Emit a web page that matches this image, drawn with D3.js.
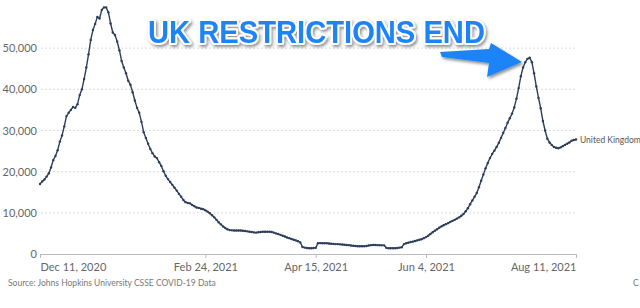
<!DOCTYPE html>
<html>
<head>
<meta charset="utf-8">
<script src="https://cdn.jsdelivr.net/npm/d3@7"></script>
<style>
  body { margin: 0; background: #fff; }
  svg { display: block; font-family: Lato, "Open Sans", sans-serif; }
</style>
</head>
<body>
<script>
const width = 640;
const height = 308;

// daily 7-day average of new cases, starting Dec 11, 2020
const startDate = '2020-12-11';
const cases = [
  17000, 17600, 18100, 18800, 19600, 21000, 22800, 23800, 25200, 27300,
  28800, 31000, 33500, 34300, 35000, 35700, 35500, 36400, 38600, 40000,
  42500, 45300, 48500, 52000, 54400, 55900, 57600, 57200, 59300, 59900,
  59900, 58700, 56000, 53800, 53200, 51600, 49500, 46900, 45300, 43900,
  42100, 41100, 39300, 37300, 35500, 34300, 32100, 29600, 28200, 26800,
  25500, 24500, 23700, 23300, 22300, 21400, 20100, 19000, 18200, 17500,
  16800, 16100, 15400, 14600, 13900, 13100, 12600, 12400, 12300, 11900,
  11600, 11300, 11200, 11000, 10900, 10600, 10300, 9900, 9400, 8900,
  8300, 7700, 7200, 6700, 6300, 6000, 5800, 5750, 5700, 5700,
  5700, 5700, 5650, 5600, 5500, 5400, 5350, 5250, 5200, 5300,
  5350, 5400, 5400, 5400, 5400, 5350, 5200, 5000, 4850, 4650,
  4450, 4250, 4000, 3850, 3650, 3450, 3300, 3100, 2800, 1700,
  1550, 1450, 1400, 1400, 1450, 1500, 2600, 2650, 2600, 2600,
  2600, 2550, 2500, 2450, 2400, 2400, 2350, 2300, 2250, 2200,
  2150, 2050, 2000, 1950, 1900, 1900, 1900, 1900, 1950, 2050,
  2150, 2200, 2200, 2150, 2150, 2100, 2100, 1500, 1400, 1400,
  1400, 1400, 1450, 1550, 1650, 2400, 2600, 2750, 2900, 3000,
  3150, 3300, 3450, 3600, 3850, 4100, 4450, 4850, 5300, 5650,
  6000, 6400, 6700, 7000, 7250, 7500, 7800, 8050, 8300, 8600,
  8900, 9300, 9700, 10400, 11100, 12100, 13000, 13900, 14800, 16200,
  17800, 19300, 20800, 22100, 23300, 24300, 25100, 26000, 27000, 28200,
  29400, 30600, 31900, 33000, 34100, 35600, 37700, 40300, 43200, 45300,
  46600, 47400, 47700, 46600, 43900, 40700, 37900, 35400, 32300, 30000,
  28000, 27100, 26500, 26000, 25800, 25700, 25900, 26200, 26500, 26800,
  27100, 27500, 27700, 27800
];
const yTicks = [0, 10000, 20000, 30000, 40000, 50000];
const xTickDates = ['2020-12-11', '2021-02-24', '2021-04-15', '2021-06-04', '2021-08-11'];
const seriesName = 'United Kingdom';
const annotation = 'UK RESTRICTIONS END';
const sourceText = 'Source: Johns Hopkins University CSSE COVID-19 Data';

const parse = d3.utcParse('%Y-%m-%d');
const t0 = parse(startDate);
const data = cases.map((v, i) => ({ date: d3.utcDay.offset(t0, i), value: v }));
const xTicks = xTickDates.map(parse);

const lineColour = '#2d3e5c';
const blue = '#1f84f6';

const x = d3.scaleUtc()
    .domain([t0, xTicks[xTicks.length - 1]])
    .range([40, 576]);
const y = d3.scaleLinear()
    .domain([0, 60000])
    .range([254, 7]);

const svg = d3.select('body').append('svg')
    .attr('width', width)
    .attr('height', height);

const defs = svg.append('defs');
const shadow = defs.append('filter').attr('id', 'shadow')
    .attr('x', '-10%').attr('y', '-30%').attr('width', '130%').attr('height', '170%');
shadow.append('feDropShadow')
    .attr('dx', 1.5).attr('dy', 2).attr('stdDeviation', 1.6)
    .attr('flood-color', '#000').attr('flood-opacity', 0.45);

// gridlines
svg.append('g')
  .selectAll('line')
  .data(yTicks.filter((d) => d > 0))
  .join('line')
    .attr('x1', 41).attr('x2', 576)
    .attr('y1', (d) => y(d)).attr('y2', (d) => y(d))
    .attr('stroke', '#ddd')
    .attr('stroke-dasharray', '2,2');

// y axis labels
svg.append('g')
  .selectAll('text')
  .data(yTicks)
  .join('text')
    .attr('x', 37)
    .attr('y', (d) => y(d) + 4)
    .attr('text-anchor', 'end')
    .attr('font-size', 11)
    .attr('fill', '#666')
    .text((d) => d3.format(',')(d));

// x axis
const xAxis = svg.append('g')
    .attr('transform', 'translate(0,254)')
    .call(d3.axisBottom(x)
      .tickValues(xTicks)
      .tickSize(4)
      .tickFormat(d3.utcFormat('%b %-d, %Y')));
xAxis.select('.domain').attr('stroke', '#bbb');
xAxis.selectAll('.tick line').attr('stroke', '#bbb');
xAxis.selectAll('.tick text')
    .attr('font-family', 'Lato, sans-serif')
    .attr('font-size', 11)
    .attr('fill', '#666')
    .attr('dy', '0.95em')
    .attr('text-anchor', (d, i) => i === 0 ? 'start' : i === xTicks.length - 1 ? 'end' : 'middle');

// series line
svg.append('path')
    .datum(data)
    .attr('fill', 'none')
    .attr('stroke', lineColour)
    .attr('stroke-width', 1.4)
    .attr('stroke-linejoin', 'round')
    .attr('d', d3.line().x((d) => x(d.date)).y((d) => y(d.value)));

svg.append('g')
  .selectAll('circle')
  .data(data)
  .join('circle')
    .attr('cx', (d) => x(d.date))
    .attr('cy', (d) => y(d.value))
    .attr('r', 1.2)
    .attr('fill', lineColour);

const last = data[data.length - 1];
svg.append('text')
    .attr('x', x(last.date) + 4)
    .attr('y', y(last.value) + 3)
    .attr('font-size', 8.5)
    .attr('fill', '#555')
    .text(seriesName);

// source line
svg.append('text')
    .attr('x', 8).attr('y', 286)
    .attr('font-size', 8.5)
    .attr('fill', '#777')
    .text(sourceText);
svg.append('text')
    .attr('x', 633).attr('y', 286)
    .attr('font-size', 8.5)
    .attr('fill', '#777')
    .text('C');

// annotation arrow
svg.append('path')
    .attr('d', 'M440,52 L489,49 L491,43 L522,62 L487,77 L489,63 L442,57 Z')
    .attr('fill', blue)
    .attr('filter', 'url(#shadow)');

// annotation text
svg.append('text')
    .attr('x', 148).attr('y', 43)
    .attr('textLength', 337)
    .attr('lengthAdjust', 'spacingAndGlyphs')
    .attr('font-family', '"Liberation Sans", Arial, sans-serif')
    .attr('font-weight', 'bold')
    .attr('font-size', 31)
    .attr('fill', blue)
    .attr('stroke', '#fff')
    .attr('stroke-width', 4)
    .attr('stroke-linejoin', 'round')
    .attr('paint-order', 'stroke')
    .attr('filter', 'url(#shadow)')
    .text(annotation);
</script>
</body>
</html>
